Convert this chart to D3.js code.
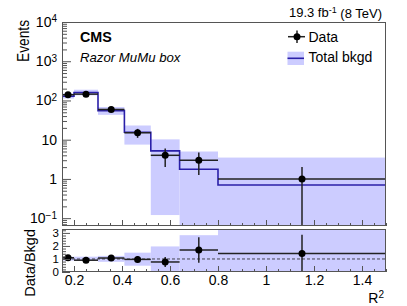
<!DOCTYPE html>
<html>
<head>
<meta charset="utf-8">
<script src="https://cdn.jsdelivr.net/npm/d3@7"></script>
<style>
  body { margin: 0; background: #fff; }
  svg { font-family: "Liberation Sans", Arial, sans-serif; }
</style>
</head>
<body>
<section></section>
<script>
// R^2 bin edges and contents
const binEdges = [0.15, 0.2, 0.3, 0.41, 0.52, 0.64, 0.8, 1.5];
const dataCounts = [140, 145, 59, 15, 4, 3, 1];
const bkgd = [128, 160, 55, 15.5, 5.2, 1.77, 0.7];
const bkgdLow = [112, 135, 43, 7.5, 0.12, 0.01, 0.01];
const bkgdHigh = [150, 188, 68, 23, 10.2, 5.0, 3.5];

const xTicks = [0.2, 0.4, 0.6, 0.8, 1, 1.2, 1.4];
const xTickLabels = ["0.2", "0.4", "0.6", "0.8", "1", "1.2", "1.4"];
const yTicks = [0.1, 1, 10, 100, 1000, 10000];
const yTickLabels = [["10", "\u22121"], ["1", ""], ["10", ""], ["10", "2"], ["10", "3"], ["10", "4"]];
const ratioTicks = [0, 1, 2, 3];
const ratioTickLabels = ["0", "1", "2", "3"];

const W = 407, H = 306;
const left = 62, right = 386;
const topT = 22, topB = 226;
const botT = 229, botB = 272;

const svg = d3.select("section").append("svg")
  .attr("width", W).attr("height", H);

const x = d3.scaleLinear().domain([0.15, 1.5]).range([left, right]);
const y = d3.scaleLog().domain([Math.pow(10, -1.2), 1e4]).range([topB, topT]);
const yr = d3.scaleLinear().domain([0, 3.3]).range([botB, botT]);

const bandColor = "#ccccff";
const lineBlue = "#2a1fa8";
const frameColor = "#555";

const defs = svg.append("defs");
defs.append("clipPath").attr("id", "clipTop").append("rect")
  .attr("x", left).attr("y", topT).attr("width", right - left).attr("height", topB - topT);
defs.append("clipPath").attr("id", "clipBot").append("rect")
  .attr("x", left).attr("y", botT).attr("width", right - left).attr("height", botB - botT);

const bins = dataCounts.map((d, i) => ({
  lo: binEdges[i], hi: binEdges[i + 1], c: (binEdges[i] + binEdges[i + 1]) / 2,
  data: d, err: Math.sqrt(d), bkg: bkgd[i], bLo: bkgdLow[i], bHi: bkgdHigh[i]
}));

// ---------- upper panel ----------
const upper = svg.append("g").attr("clip-path", "url(#clipTop)");

upper.selectAll("rect.band")
  .data(bins)
  .enter()
  .append("rect")
  .attr("class", "band")
  .attr("x", d => x(d.lo))
  .attr("y", d => y(d.bHi))
  .attr("width", d => x(d.hi) - x(d.lo))
  .attr("height", d => y(d.bLo) - y(d.bHi))
  .attr("fill", bandColor);

const stepPts = bins.map(d => [d.lo, d.bkg]).concat([[1.5, bins[bins.length - 1].bkg]]);
upper.append("path")
  .attr("d", d3.line().x(d => x(d[0])).y(d => y(d[1])).curve(d3.curveStepAfter)(stepPts))
  .attr("fill", "none")
  .attr("stroke", lineBlue)
  .attr("stroke-width", 1.6);

upper.selectAll("line.xerr")
  .data(bins)
  .enter()
  .append("line")
  .attr("x1", d => x(d.lo)).attr("x2", d => x(d.hi))
  .attr("y1", d => y(d.data)).attr("y2", d => y(d.data))
  .attr("stroke", "#222").attr("stroke-width", 1.5);

upper.selectAll("line.yerr")
  .data(bins)
  .enter()
  .append("line")
  .attr("x1", d => x(d.c)).attr("x2", d => x(d.c))
  .attr("y1", d => y(d.data + d.err))
  .attr("y2", d => y(Math.max(d.data - d.err, 1e-3)))
  .attr("stroke", "#222").attr("stroke-width", 1.5);

upper.selectAll("circle")
  .data(bins)
  .enter()
  .append("circle")
  .attr("cx", d => x(d.c)).attr("cy", d => y(d.data))
  .attr("r", 3.5).attr("fill", "#000");

// ---------- lower panel ----------
const lower = svg.append("g").attr("clip-path", "url(#clipBot)");

lower.selectAll("rect.band")
  .data(bins)
  .enter()
  .append("rect")
  .attr("class", "band")
  .attr("x", d => x(d.lo))
  .attr("y", d => yr(d.bHi / d.bkg))
  .attr("width", d => x(d.hi) - x(d.lo))
  .attr("height", d => yr(d.bLo / d.bkg) - yr(d.bHi / d.bkg))
  .attr("fill", bandColor);

lower.append("line")
  .attr("x1", left).attr("x2", right)
  .attr("y1", yr(1)).attr("y2", yr(1))
  .attr("stroke", "#222").attr("stroke-width", 0.8)
  .attr("stroke-dasharray", "3,2");

lower.selectAll("line.xerr")
  .data(bins)
  .enter()
  .append("line")
  .attr("x1", d => x(d.lo)).attr("x2", d => x(d.hi))
  .attr("y1", d => yr(d.data / d.bkg)).attr("y2", d => yr(d.data / d.bkg))
  .attr("stroke", "#222").attr("stroke-width", 1.5);

lower.selectAll("line.yerr")
  .data(bins)
  .enter()
  .append("line")
  .attr("x1", d => x(d.c)).attr("x2", d => x(d.c))
  .attr("y1", d => yr((d.data + d.err) / d.bkg))
  .attr("y2", d => yr((d.data - d.err) / d.bkg))
  .attr("stroke", "#222").attr("stroke-width", 1.5);

lower.selectAll("circle")
  .data(bins)
  .enter()
  .append("circle")
  .attr("cx", d => x(d.c)).attr("cy", d => yr(d.data / d.bkg))
  .attr("r", 3.5).attr("fill", "#000");

// ---------- frames ----------
svg.append("rect")
  .attr("x", left + 0.5).attr("y", topT + 0.5)
  .attr("width", right - left - 1).attr("height", topB - topT - 1)
  .attr("fill", "none").attr("stroke", frameColor);
svg.append("rect")
  .attr("x", left + 0.5).attr("y", botT + 0.5)
  .attr("width", right - left - 1).attr("height", botB - botT - 1)
  .attr("fill", "none").attr("stroke", frameColor);

// ---------- axes ----------
const styleAxis = g => {
  g.select(".domain").remove();
  g.selectAll(".tick line").attr("stroke", frameColor);
  g.selectAll(".tick text").attr("fill", "#000");
};

// log minor ticks
const yMinor = [];
for (let e = -2; e < 4; e++) {
  for (let k = 2; k < 10; k++) {
    const v = k * Math.pow(10, e);
    if (v > y.domain()[0] && v < 1e4) yMinor.push(v);
  }
}
svg.append("g")
  .attr("transform", `translate(${left},0)`)
  .call(d3.axisLeft(y).tickValues(yMinor).tickFormat("").tickSizeInner(-5).tickSizeOuter(0))
  .call(styleAxis);

const yAxisG = svg.append("g")
  .attr("transform", `translate(${left},0)`)
  .call(d3.axisLeft(y).tickValues(yTicks).tickFormat("").tickSizeInner(-9).tickSizeOuter(0).tickPadding(5))
  .call(styleAxis)
  .attr("font-family", null)
  .attr("font-size", 14);
yAxisG.selectAll(".tick text")
  .each(function (d, i) {
    const t = d3.select(this);
    const lab = yTickLabels[i];
    t.append("tspan").text(lab[0]);
    if (lab[1]) {
      t.append("tspan").attr("dy", "-0.45em").attr("font-size", 10).text(lab[1]);
    }
  });

// x ticks (upper panel bottom, lower panel bottom)
const xMinor = d3.range(0.15, 1.5001, 0.05).filter(v => Math.abs(v / 0.2 - Math.round(v / 0.2)) > 1e-6);
[topB, botB].forEach((yy, k) => {
  svg.append("g")
    .attr("transform", `translate(0,${yy})`)
    .call(d3.axisBottom(x).tickValues(xMinor).tickFormat("").tickSizeInner(-3).tickSizeOuter(0))
    .call(styleAxis);
  svg.append("g")
    .attr("transform", `translate(0,${yy})`)
    .call(d3.axisBottom(x).tickValues(xTicks)
      .tickFormat((d, i) => k === 1 ? xTickLabels[i] : "")
      .tickSizeInner(-6).tickSizeOuter(0).tickPadding(3))
    .call(styleAxis)
    .attr("font-family", null)
    .attr("font-size", 14);
});

// ratio y axis
svg.append("g")
  .attr("transform", `translate(${left},0)`)
  .call(d3.axisLeft(yr).tickValues(d3.range(0.2, 3.3, 0.2).filter(v => Math.abs(v - Math.round(v)) > 1e-6))
    .tickFormat("").tickSizeInner(-4).tickSizeOuter(0))
  .call(styleAxis);
svg.append("g")
  .attr("transform", `translate(${left},0)`)
  .call(d3.axisLeft(yr).tickValues(ratioTicks).tickFormat((d, i) => ratioTickLabels[i])
    .tickSizeInner(-8).tickSizeOuter(0).tickPadding(3))
  .call(styleAxis)
  .attr("font-family", null)
  .attr("font-size", 11.5);

// ---------- titles and labels ----------
svg.append("text")
  .attr("transform", "translate(28.5,20) rotate(-90)")
  .attr("text-anchor", "end")
  .attr("font-size", 16)
  .attr("textLength", 42)
  .attr("lengthAdjust", "spacingAndGlyphs")
  .text("Events");

svg.append("text")
  .attr("transform", "translate(34.5,229) rotate(-90)")
  .attr("text-anchor", "end")
  .attr("font-size", 14.5)
  .text("Data/Bkgd");

const rTitle = svg.append("text")
  .attr("x", 384).attr("y", 302.5)
  .attr("text-anchor", "end")
  .attr("font-size", 14);
rTitle.append("tspan").text("R");
rTitle.append("tspan").attr("dy", "-0.45em").attr("font-size", 10).text("2");

const lumi = svg.append("text")
  .attr("x", 382).attr("y", 16.5)
  .attr("text-anchor", "end")
  .attr("font-size", 13);
lumi.append("tspan").text("19.3 fb");
lumi.append("tspan").attr("dy", "-0.4em").attr("font-size", 9).text("-1");
lumi.append("tspan").attr("dy", "0.4em").text(" (8 TeV)");

svg.append("text")
  .attr("x", 80).attr("y", 41.7)
  .attr("font-size", 14.3).attr("font-weight", "bold")
  .text("CMS");

svg.append("text")
  .attr("x", 80).attr("y", 61.5)
  .attr("font-size", 13.2).attr("font-style", "italic")
  .text("Razor MuMu box");

// ---------- legend ----------
const leg = svg.append("g");
leg.append("line")
  .attr("x1", 288).attr("x2", 305).attr("y1", 36.7).attr("y2", 36.7)
  .attr("stroke", "#222").attr("stroke-width", 1.5);
leg.append("line")
  .attr("x1", 297).attr("x2", 297).attr("y1", 30.5).attr("y2", 43)
  .attr("stroke", "#222").attr("stroke-width", 1.5);
leg.append("circle")
  .attr("cx", 297).attr("cy", 36.7).attr("r", 3.5).attr("fill", "#000");
leg.append("text")
  .attr("x", 308.5).attr("y", 41.7)
  .attr("font-size", 14)
  .text("Data");

leg.append("rect")
  .attr("x", 287.5).attr("y", 51.7).attr("width", 16.5).attr("height", 13.3)
  .attr("fill", bandColor);
leg.append("line")
  .attr("x1", 287.5).attr("x2", 304).attr("y1", 58.3).attr("y2", 58.3)
  .attr("stroke", lineBlue).attr("stroke-width", 1.6);
leg.append("text")
  .attr("x", 308.5).attr("y", 62)
  .attr("font-size", 14)
  .text("Total bkgd");
</script>
</body>
</html>
